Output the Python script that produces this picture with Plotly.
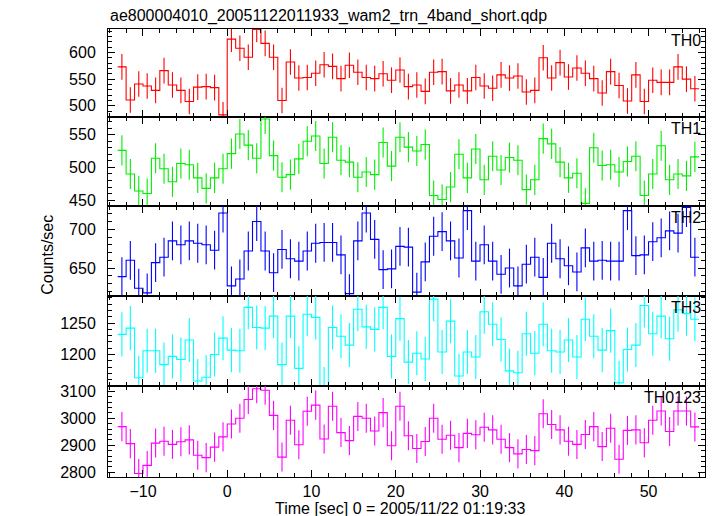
import plotly.graph_objects as go

TITLE = "ae800004010_20051122011933_wam2_trn_4band_short.qdp"
X_TITLE = "Time [sec] 0 = 2005/11/22 01:19:33"
Y_TITLE = "Counts/sec"

# bin centres (sec), 1 s bins
TIME = [-12.5, -11.5, -10.5, -9.5, -8.5, -7.5, -6.5, -5.5, -4.5, -3.5, -2.5, -1.5, -0.5,
        0.5, 1.5, 2.5, 3.5, 4.5, 5.5, 6.5, 7.5, 8.5, 9.5, 10.5, 11.5, 12.5, 13.5, 14.5,
        15.5, 16.5, 17.5, 18.5, 19.5, 20.5, 21.5, 22.5, 23.5, 24.5, 25.5, 26.5, 27.5,
        28.5, 29.5, 30.5, 31.5, 32.5, 33.5, 34.5, 35.5, 36.5, 37.5, 38.5, 39.5, 40.5,
        41.5, 42.5, 43.5, 44.5, 45.5, 46.5, 47.5, 48.5, 49.5, 50.5, 51.5, 52.5, 53.5,
        54.5, 55.5]
BIN_WIDTH = 1.0

TH0 = [573, 511, 541, 537, 529, 566, 539, 529, 508, 535, 536, 534, 483, 625, 608, 591,
       643, 617, 591, 510, 582, 552, 553, 561, 577, 574, 551, 576, 563, 553, 551, 560,
       548, 567, 536, 539, 527, 563, 564, 528, 539, 528, 553, 537, 533, 558, 552, 556,
       526, 529, 590, 552, 581, 554, 571, 561, 551, 524, 564, 538, 509, 558, 508, 548,
       544, 544, 573, 550, 532]
TH1 = [526, 490, 464, 460, 514, 498, 478, 506, 504, 484, 468, 484, 498, 521, 551, 534,
       514, 574, 518, 485, 489, 513, 540, 548, 506, 546, 511, 508, 485, 493, 489, 538,
       502, 546, 531, 525, 535, 457, 451, 470, 520, 484, 528, 481, 517, 496, 515, 511,
       466, 481, 544, 536, 508, 484, 491, 445, 530, 503, 504, 493, 509, 517, 457, 490,
       533, 481, 490, 487, 516]
TH2 = [639, 660, 624, 618, 657, 664, 685, 680, 685, 682, 680, 673, 721, 627, 636, 672,
       710, 672, 644, 674, 662, 659, 672, 682, 683, 683, 667, 617, 685, 721, 687, 648,
       649, 678, 677, 619, 658, 691, 697, 685, 663, 724, 659, 680, 659, 642, 650, 627,
       655, 664, 638, 682, 662, 653, 645, 676, 659, 660, 659, 659, 724, 666, 667, 684,
       689, 698, 695, 728, 664]
TH3 = [1232, 1242, 1163, 1206, 1206, 1184, 1197, 1192, 1223, 1158, 1164, 1200, 1226,
       1207, 1206, 1275, 1243, 1242, 1261, 1184, 1261, 1178, 1264, 1259, 1145, 1243,
       1229, 1215, 1272, 1244, 1240, 1275, 1197, 1257, 1188, 1202, 1193, 1288, 1204,
       1253, 1166, 1204, 1196, 1268, 1248, 1224, 1174, 1171, 1233, 1202, 1248, 1206,
       1204, 1223, 1196, 1256, 1229, 1207, 1238, 1155, 1208, 1215, 1278, 1233, 1261,
       1225, 1271, 1265, 1256]
TH0123 = [2969, 2906, 2795, 2825, 2908, 2915, 2903, 2913, 2920, 2863, 2854, 2893, 2931,
          2979, 3000, 3070, 3110, 3104, 3011, 2856, 2993, 2902, 3026, 3049, 2923, 3045,
          2947, 2917, 3007, 3000, 2953, 3021, 2898, 3045, 2935, 2888, 2914, 3000, 2922,
          2937, 2891, 2944, 2939, 2967, 2957, 2922, 2891, 2868, 2884, 2880, 3017, 2977,
          2957, 2915, 2903, 2940, 2969, 2895, 2963, 2848, 2955, 2957, 2909, 2993, 3027,
          2951, 3027, 3027, 2968]

# typical 1-sigma error per band (counts/sec)
ERR_TH0 = 24
ERR_TH1 = 23
ERR_TH2 = 25
ERR_TH3 = 35
ERR_TH0123 = 54

BAND_NAMES = ["TH0", "TH1", "TH2", "TH3", "TH0123"]
BAND_VALUES = [TH0, TH1, TH2, TH3, TH0123]
BAND_ERRORS = [ERR_TH0, ERR_TH1, ERR_TH2, ERR_TH3, ERR_TH0123]
BAND_COLORS = ["#ff0000", "#00ee00", "#0000ff", "#00ffff", "#ff00ff"]
Y_RANGES = [[479, 644], [441, 577], [614, 730], [1150, 1293], [2782, 3120]]
Y_TICKS = [[500, 550, 600], [450, 500, 550], [650, 700], [1200, 1250],
           [2800, 2900, 3000, 3100]]
Y_MINOR = [10, 10, 10, 10, 20]
X_TICKS = [-10, 0, 10, 20, 30, 40, 50]
X_RANGE = [-14.15, 56.7]

FONT = "Liberation Sans, Arial, Helvetica, sans-serif"

# panel domains (top to bottom), from pixel boundaries of the plot area
W, H = 717, 516
L, R, T, B = 108, 12, 29, 39
bounds_px = [29, 117, 206, 296, 386, 477]
plot_h = H - T - B
domains = []
for i in range(5):
    top = (H - B - bounds_px[i]) / plot_h
    bot = (H - B - bounds_px[i + 1]) / plot_h
    domains.append([max(0.0, bot), min(1.0, top)])

edges = [t - BIN_WIDTH / 2 for t in TIME] + [TIME[-1] + BIN_WIDTH / 2]

fig = go.Figure()
layout = dict(
    width=W, height=H, autosize=False,
    margin=dict(l=L, r=R, t=T, b=B, pad=0),
    paper_bgcolor="white", plot_bgcolor="white",
    showlegend=False,
    font=dict(family=FONT, size=16, color="black"),
)

for i, (name, vals, err, col) in enumerate(zip(BAND_NAMES, BAND_VALUES, BAND_ERRORS, BAND_COLORS)):
    n = "" if i == 0 else str(i + 1)
    xa, ya = "x" + n, "y" + n
    fig.add_trace(go.Scatter(
        x=edges, y=list(vals) + [vals[-1]], mode="lines",
        line=dict(shape="hv", color=col, width=1.1),
        xaxis=xa, yaxis=ya, hoverinfo="skip", cliponaxis=True))
    fig.add_trace(go.Scatter(
        x=TIME, y=vals, mode="markers",
        marker=dict(size=1, color=col),
        error_y=dict(type="constant", value=err, width=0, thickness=1.1, color=col),
        xaxis=xa, yaxis=ya, hoverinfo="skip"))

    layout["xaxis" + n] = dict(
        domain=[0, 1], anchor=ya, range=X_RANGE,
        tickmode="array", tickvals=X_TICKS,
        showticklabels=(i == 4),
        ticks="inside", ticklen=7, tickwidth=1, tickcolor="black",
        minor=dict(dtick=2, tick0=0, ticks="inside", ticklen=4, tickwidth=1, tickcolor="black"),
        showline=True, linecolor="black", linewidth=1, mirror="allticks",
        showgrid=False, zeroline=False,
        tickfont=dict(size=16, family=FONT),
        **({} if i == 0 else {"matches": "x"}),
    )
    layout["yaxis" + n] = dict(
        domain=domains[i], anchor=xa, range=Y_RANGES[i],
        tickmode="array", tickvals=Y_TICKS[i],
        ticks="inside", ticklen=7, tickwidth=1, tickcolor="black",
        minor=dict(dtick=Y_MINOR[i], tick0=0, ticks="inside", ticklen=4, tickwidth=1,
                   tickcolor="black"),
        showline=True, linecolor="black", linewidth=1, mirror="allticks",
        showgrid=False, zeroline=False,
        ticklabelstandoff=8,
        tickfont=dict(size=16, family=FONT),
    )

annotations = []
for i, name in enumerate(BAND_NAMES):
    annotations.append(dict(
        text=name, xref="paper", yref="paper", x=1.0, y=domains[i][1],
        xanchor="right", yanchor="top", xshift=-2, yshift=-1, showarrow=False,
        font=dict(size=16, family=FONT, color="black")))
annotations.append(dict(
    text=TITLE, xref="paper", yref="paper", x=0, y=1, xanchor="left", yanchor="bottom",
    yshift=2, showarrow=False, font=dict(size=16, family=FONT, color="black")))
annotations.append(dict(
    text=X_TITLE, xref="paper", yref="paper", x=0.489, y=0, xanchor="center",
    yanchor="top", yshift=-21, showarrow=False, font=dict(size=16, family=FONT, color="black")))
annotations.append(dict(
    text=Y_TITLE, xref="paper", yref="paper", x=0, y=0.496, xanchor="center",
    yanchor="middle", xshift=-60, textangle=-90, showarrow=False,
    font=dict(size=16, family=FONT, color="black")))
layout["annotations"] = annotations

fig.update_layout(**layout)
fig.write_html(
    "out.html",
    config={"displayModeBar": False, "staticPlot": True},
    post_script="document.body.style.margin='0';document.body.style.overflow='hidden';",
)
